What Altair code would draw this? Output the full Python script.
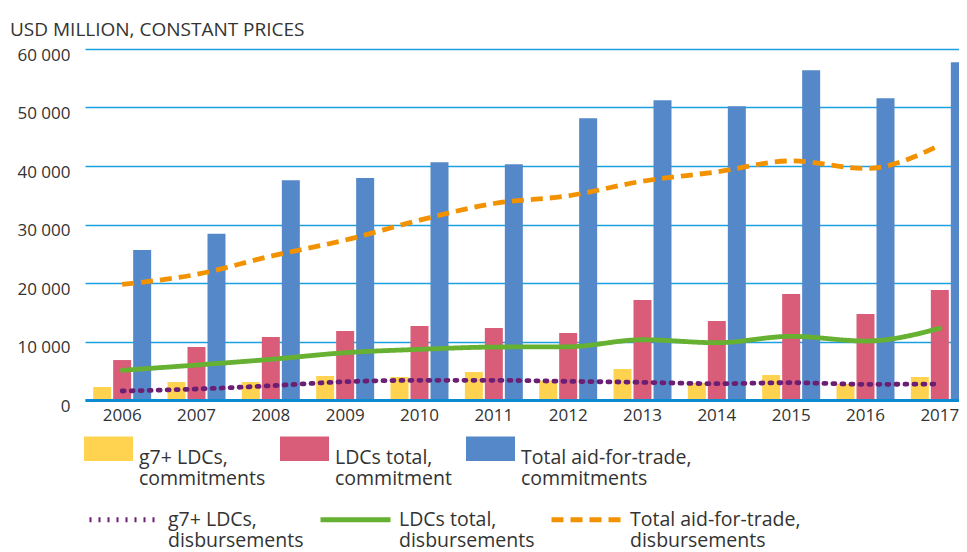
import altair as alt
import pandas as pd

years = ["2006", "2007", "2008", "2009", "2010", "2011", "2012", "2013", "2014", "2015", "2016", "2017"]

g7_commit = [2220, 3070, 3070, 4100, 3930, 4780, 3300, 5290, 2900, 4270, 2730, 3930]
ldc_commit = [6830, 9050, 10760, 11790, 12640, 12300, 11440, 17080, 13490, 18100, 14690, 18790]
total_commit = [25620, 28400, 37570, 37970, 40650, 40300, 48160, 51240, 50210, 56360, 51580, 57730]

g7_disb = [1540, 1880, 2440, 3130, 3360, 3360, 3190, 3020, 2790, 2960, 2680, 2730]
ldc_disb = [5070, 5980, 6950, 8080, 8660, 9050, 9100, 10300, 9790, 10880, 10080, 12240]
total_disb = [19760, 21470, 24590, 27330, 30740, 33590, 34900, 37400, 39000, 40870, 39570, 43550]

bar_names = ["g7+ LDCs,\ncommitments", "LDCs total,\ncommitment", "Total aid-for-trade,\n commitments"]
line_names = ["g7+ LDCs,\ndisbursements", "LDCs total,\ndisbursements", "Total aid-for-trade,\ndisbursements"]

bar_colors = ["#FFD34F", "#D95C79", "#5588C8"]
line_colors = ["#6B1F74", "#66B032", "#F39200"]
line_dashes = [[2, 7], [1, 0], [12, 7]]
line_caps = ["round", "round", "butt"]

bar_rows = []
for name, vals in zip(bar_names, [g7_commit, ldc_commit, total_commit]):
    for y, v in zip(years, vals):
        bar_rows.append({"year": y, "series": name, "value": v})
bar_df = pd.DataFrame(bar_rows)

line_rows = []
for name, vals in zip(line_names, [g7_disb, ldc_disb, total_disb]):
    for y, v in zip(years, vals):
        line_rows.append({"year": y, "series": name, "value": v})
line_df = pd.DataFrame(line_rows)

FONT = "Open Sans"
TXT = "#333333"

X = alt.X(
    "year:O",
    sort=years,
    title=None,
    scale=alt.Scale(range=[0, 892], paddingInner=0.22, paddingOuter=0.11),
    axis=alt.Axis(
        labelAngle=0, ticks=False, domainColor="#0A8AD0", domainWidth=3,
        labelFontSize=17, labelPadding=7, labelColor=TXT, labelFont=FONT,
        grid=False, zindex=1,
    ),
)

Y = alt.Y(
    "value:Q",
    title=None,
    scale=alt.Scale(domain=[0, 60000], nice=False),
    axis=alt.Axis(
        values=[0, 10000, 20000, 30000, 40000, 50000, 60000],
        grid=True, gridColor="#1BA1E2", gridWidth=1.3,
        domain=False, ticks=False,
        labelExpr="replace(format(datum.value, ','), ',', ' ')",
        labelFontSize=17, labelPadding=15, labelOffset=6,
        labelColor=TXT, labelFont=FONT,
    ),
)

bar_legend = alt.Legend(
    title=None, orient="none", legendX=-1, legendY=375,
    direction="horizontal", columns=3, columnPadding=14,
    symbolType="M-1,-0.5H1V0.5H-1Z", symbolSize=2401, symbolStrokeWidth=0,
    labelOffset=6, labelFontSize=19.5, labelFont=FONT, labelColor=TXT,
    labelBaseline="top",
    labelLimit=400, labelExpr="split(datum.label, '\\n')",
)

line_legend = alt.Legend(
    title=None, orient="none", legendX=2, legendY=433,
    direction="horizontal", columns=3, columnPadding=6,
    symbolType="stroke", symbolSize=4900, symbolStrokeWidth=5,
    labelOffset=6, labelFontSize=19.5, labelFont=FONT, labelColor=TXT,
    labelBaseline="middle",
    labelLimit=400, labelExpr="split(datum.label, '\\n')",
)

bars = alt.Chart(bar_df).mark_bar(clip=True).encode(
    x=X,
    xOffset=alt.XOffset("series:N", sort=bar_names,
                        scale=alt.Scale(paddingInner=0.1, paddingOuter=0)),
    y=Y,
    fill=alt.Fill("series:N", sort=bar_names,
                  scale=alt.Scale(domain=bar_names, range=bar_colors),
                  legend=bar_legend),
)

line_layers = []
for i, name in enumerate(line_names):
    line_layers.append(
        alt.Chart(line_df)
        .transform_filter(alt.datum.series == name)
        .mark_line(interpolate="monotone", strokeWidth=4.8, strokeCap=line_caps[i])
        .encode(
            x=X,
            y=Y,
            stroke=alt.Stroke("series:N", sort=line_names,
                              scale=alt.Scale(domain=line_names, range=line_colors),
                              legend=line_legend),
            strokeDash=alt.StrokeDash("series:N", sort=line_names,
                                      scale=alt.Scale(domain=line_names, range=line_dashes),
                                      legend=line_legend),
        )
    )

chart = (
    alt.layer(bars, *line_layers)
    .properties(
        width=874,
        height=351,
        autosize=alt.AutoSizeParams(type="none"),
        padding={"left": 77, "top": 41, "right": 0, "bottom": 152},
        title=alt.TitleParams(
            "USD MILLION, CONSTANT PRICES", anchor="start", frame="group",
            dx=-75, dy=21, fontSize=19, fontWeight="normal", color=TXT, font=FONT,
            baseline="alphabetic", offset=12,
        ),
    )
    .configure_view(stroke=None)
)

chart.save("out.html", embed_options={"renderer": "svg", "actions": False})
